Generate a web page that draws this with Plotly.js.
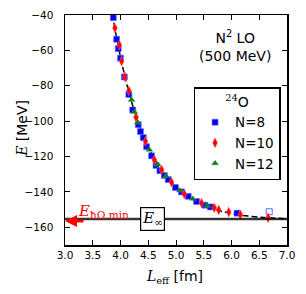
<!DOCTYPE html>
<html><head><meta charset="utf-8">
<script src="https://cdn.plot.ly/plotly-3.0.1.min.js"></script>
<style>body{margin:0;padding:0;background:#fff}#chart{width:306px;height:294px}</style>
</head><body><div id="chart"></div>
<script>
// N=8 (blue squares)
const n8_L = [3.87, 3.93, 3.96, 4.00, 4.07, 4.15, 4.22, 4.32, 4.36, 4.41, 4.47, 4.56, 4.64, 4.71, 4.79, 4.86, 4.99, 5.10, 5.22, 5.37, 5.52, 5.62, 6.10, 6.68];
const n8_E = [-41.5, -53.7, -59.0, -64.4, -75.0, -84.9, -93.7, -102.0, -105.9, -109.3, -114.4, -119.6, -125.0, -128.0, -130.7, -133.0, -137.5, -140.0, -142.5, -145.4, -147.5, -148.5, -152.0, -151.2];
const n8_open = [false,false,false,false,false,false,false,false,false,false,false,false,false,false,false,false,false,false,false,false,false,false,false,true];
// N=10 (red diamonds)
const n10_L = [3.90, 3.98, 4.02, 4.08, 4.15, 4.28, 4.45, 4.61, 4.74, 4.92, 5.15, 5.46, 5.69, 5.77, 5.95, 6.16, 6.66];
const n10_E = [-47.4, -57.0, -66.1, -75.0, -82.8, -97.8, -111.4, -121.9, -127.5, -134.6, -141.2, -146.3, -149.0, -150.2, -151.4, -152.9, -154.6];
// N=12 (green triangles)
const n12_L = [4.20, 4.25, 4.31, 4.52, 4.67, 4.82, 5.07, 5.30, 5.56];
const n12_E = [-88.0, -94.8, -100.8, -116.2, -124.5, -131.0, -139.2, -143.9, -147.8];
// dashed fit curve
const fit_L = [3.80, 3.90, 4.00, 4.10, 4.20, 4.30, 4.40, 4.50, 4.60, 4.70, 4.80, 5.00, 5.20, 5.40, 5.60, 5.80, 6.00, 6.20, 6.50, 7.00];
const fit_E = [-29.3, -48.0, -64.0, -77.6, -89.2, -99.1, -107.5, -114.7, -120.8, -126.0, -130.4, -137.4, -142.5, -146.2, -148.9, -150.8, -152.3, -153.3, -154.3, -155.2];
// asymptote and band
const E_inf = -155.3;
const E_inf_band = [-156.4, -154.2];
const E_hw_min = -156.4;
const xTicks = [3.0, 3.5, 4.0, 4.5, 5.0, 5.5, 6.0, 6.5, 7.0];
const yTicks = [-160, -140, -120, -100, -80, -60, -40];

const serif = 'font-family:DejaVu Serif';
const traces = [
  {x: fit_L, y: fit_E, mode: 'lines', line: {color: 'black', width: 1.5, dash: '6px,3px'}, showlegend: false, hoverinfo: 'skip'},
  {x: n8_L, y: n8_E, mode: 'markers', name: 'N=8',
   marker: {symbol: n8_open.map(o => o ? 'square-open' : 'square'), size: 6, color: '#0000ff', line: {width: 0.6, color: '#7070ff'}}},
  {x: n10_L, y: n10_E, mode: 'markers', name: 'N=10',
   marker: {symbol: 'diamond-tall', size: 7, color: '#ff0000', line: {width: 0.5, color: '#ff7070'}}},
  {x: n12_L, y: n12_E, mode: 'markers', name: 'N=12',
   marker: {symbol: 'triangle-up', size: 6, color: '#008000', line: {width: 0.5, color: '#50a050'}}}
];

const layout = {
  width: 306, height: 294,
  margin: {l: 65, r: 18.5, t: 14.7, b: 49},
  paper_bgcolor: 'white', plot_bgcolor: 'white',
  font: {family: 'DejaVu Sans', size: 10, color: 'black'},
  showlegend: true,
  legend: {
    x: 0.971, y: 0.686, xanchor: 'right', yanchor: 'top',
    bgcolor: 'white', bordercolor: 'black', borderwidth: 1.5,
    font: {family: 'DejaVu Sans', size: 13.5},
    title: {text: '<span style="' + serif + '"><sup>24</sup></span>O', font: {family: 'DejaVu Sans', size: 14}, side: 'top center'},
    itemwidth: 30, tracegroupgap: 0
  },
  xaxis: {
    range: [3.0, 7.0], tickvals: xTicks, ticktext: xTicks.map(v => v.toFixed(1)),
    ticks: 'inside', ticklen: 5, tickwidth: 1, tickcolor: 'black', mirror: 'ticks',
    showline: true, linecolor: 'black', linewidth: 1.5, showgrid: false, zeroline: false,
    tickfont: {size: 10.5}
  },
  yaxis: {
    range: [-170, -40], tickvals: yTicks, ticktext: yTicks.map(v => '\u2212' + Math.abs(v)),
    ticks: 'inside', ticklen: 5, tickwidth: 1, tickcolor: 'black', mirror: 'ticks',
    showline: true, linecolor: 'black', linewidth: 1.5, showgrid: false, zeroline: false,
    tickfont: {size: 10.5}, ticklabelstandoff: 8
  },
  shapes: [
    {type: 'rect', xref: 'paper', x0: 0, x1: 1, yref: 'y', y0: E_inf_band[0], y1: E_inf_band[1],
     fillcolor: 'rgba(150,150,150,0.45)', line: {width: 0}, layer: 'below'},
    {type: 'line', xref: 'paper', x0: 0, x1: 1, yref: 'y', y0: E_inf, y1: E_inf,
     line: {color: 'black', width: 1.5}}
  ],
  annotations: [
    {x: -0.195, y: 0.508, xref: 'paper', yref: 'paper', showarrow: false, textangle: -90,
     xanchor: 'center', yanchor: 'middle',
     text: '<span style="' + serif + '"><i>E</i></span> [MeV]', font: {size: 14}},
    {x: 0.494, y: -0.139, xref: 'paper', yref: 'paper', showarrow: false,
     xanchor: 'center', yanchor: 'middle',
     text: '<span style="' + serif + '"><i>L</i><sub>eff</sub></span> [fm]', font: {size: 14}},
    {x: 0.764, y: 0.864, xref: 'paper', yref: 'paper', showarrow: false, xanchor: 'center', yanchor: 'middle',
     text: 'N<sup>2</sup> LO<br>(500 MeV)', font: {family: 'DejaVu Sans', size: 14}, align: 'center'},
    {x: 4.58, y: E_inf, xref: 'x', yref: 'y', showarrow: false, xanchor: 'center', yanchor: 'middle',
     text: '<span style="' + serif + '"><i>E</i><sub>∞</sub></span>', font: {size: 15},
     bgcolor: 'white', bordercolor: 'black', borderwidth: 1.2, borderpad: 1},
    {x: 3.2, y: -151.0, xref: 'x', yref: 'y', showarrow: false, xanchor: 'left', yanchor: 'middle',
     text: '<span style="' + serif + '"><i>E</i><sub>ħΩ min</sub></span>', font: {size: 15, color: '#ff0000'}},
    {x: 3.0, y: E_hw_min, ax: 3.36, ay: E_hw_min, xref: 'x', yref: 'y', axref: 'x', ayref: 'y',
     text: '', showarrow: true, arrowcolor: '#ff0000', arrowwidth: 3, arrowhead: 2, arrowsize: 0.8}
  ]
};
Plotly.newPlot('chart', traces, layout, {staticPlot: true, displayModeBar: false});
</script></body></html>
